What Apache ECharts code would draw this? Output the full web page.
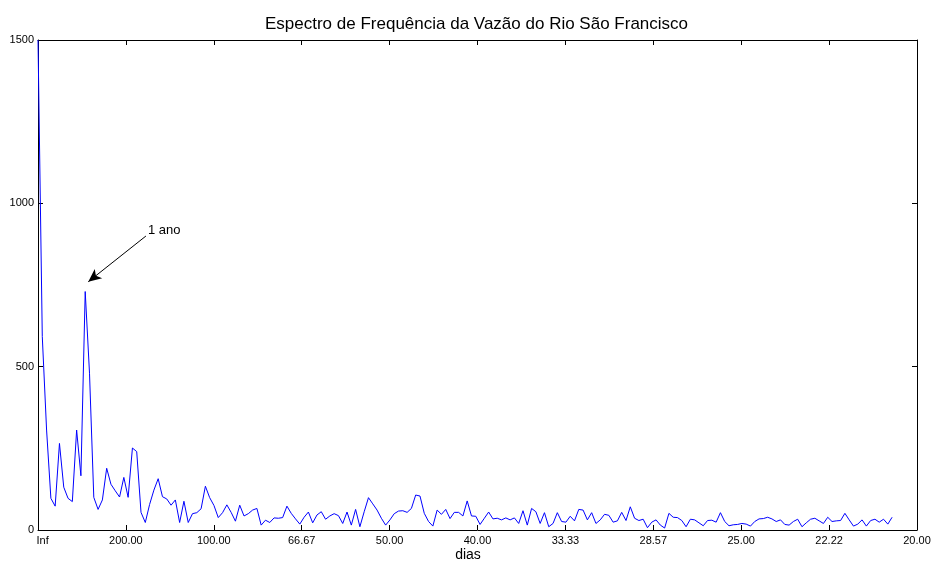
<!DOCTYPE html>
<html>
<head>
<meta charset="utf-8">
<title>Espectro de Frequência da Vazão do Rio São Francisco</title>
<script src="https://cdn.jsdelivr.net/npm/echarts@6/dist/echarts.min.js"></script>
<style>
  html, body { margin: 0; padding: 0; background: #fff; }
  #chart { width: 934px; height: 562px; }
</style>
</head>
<body>
<div id="chart"></div>
<script>
// FFT length used to turn bin index into frequency (cycles per day)
const fftLength = 4096;

// Spectral amplitude for bins 0..199
const amplitude = [
  1500, 592, 306, 97, 73, 265, 131, 97, 87, 306,
  166, 730, 480, 100, 63, 92, 189, 140, 120, 101,
  161, 100, 251, 240, 54, 23, 78, 122, 157, 102,
  95, 76, 92, 23, 88, 23, 50, 53, 65, 134,
  99, 75, 38, 53, 77, 54, 27, 76, 43, 50,
  61, 66, 15, 30, 23, 37, 36, 38, 73, 51,
  34, 18, 39, 55, 22, 46, 56, 33, 43, 50,
  44, 20, 55, 15, 63, 10, 56, 99, 80, 61,
  36, 15, 31, 50, 58, 59, 54, 66, 107, 104,
  51, 26, 12, 61, 48, 63, 35, 54, 54, 43,
  89, 43, 42, 17, 36, 55, 34, 36, 31, 37,
  31, 37, 20, 59, 15, 66, 56, 20, 53, 10,
  20, 53, 26, 24, 42, 28, 63, 61, 31, 53,
  20, 31, 48, 45, 24, 28, 54, 29, 71, 36,
  29, 33, 7, 24, 31, 15, 6, 51, 39, 38,
  29, 10, 33, 31, 22, 13, 29, 30, 24, 53,
  26, 13, 16, 17, 20, 18, 12, 26, 34, 35,
  39, 34, 26, 31, 17, 15, 26, 33, 10, 22,
  33, 36, 28, 20, 39, 26, 28, 29, 51, 31,
  12, 18, 31, 12, 29, 33, 24, 33, 18, 39
];

// Frequency axis ticks (every 0.005 cycles/day) labelled as periods in days
const xTickStep = 0.005;
const xTickLabels = ['   Inf', '200.00', '100.00', '66.67', '50.00', '40.00',
                     '33.33', '28.57', '25.00', '22.22', '20.00'];
const yTicks = [0, 500, 1000, 1500];

// Annotation arrow for the annual cycle: tail and head in data coordinates
const annotationText = '1 ano';
const annotationTail = [0.00614, 900];
const annotationHead = [0.00286, 760];

const titleText = 'Espectro de Frequência da Vazão do Rio São Francisco';
const xAxisTitle = 'dias';

const seriesData = amplitude.map((v, k) => [k / fftLength, v]);

const font = '"Liberation Sans", Arial, Helvetica, sans-serif';
const black = '#000';

function frameAxis(extra) {
  return Object.assign({
    type: 'value',
    axisLine: { show: true, onZero: false, lineStyle: { color: black, width: 1 } },
    axisTick: { show: true, inside: true, length: 5, lineStyle: { color: black, width: 1 } },
    splitLine: { show: false },
    axisLabel: { show: false }
  }, extra);
}

const chart = echarts.init(document.getElementById('chart'), null, { renderer: 'canvas' });

chart.setOption({
  animation: false,
  backgroundColor: '#fff',
  grid: { left: 38, right: 17, top: 40, bottom: 32, containLabel: false },
  xAxis: [
    frameAxis({
      position: 'bottom',
      min: 0, max: 0.05, interval: xTickStep,
      axisLabel: {
        show: true, color: black, fontFamily: font, fontSize: 11, margin: 5,
        formatter: v => xTickLabels[Math.round(v / xTickStep)] || ''
      }
    }),
    frameAxis({ position: 'top', min: 0, max: 0.05, interval: xTickStep })
  ],
  yAxis: [
    frameAxis({
      position: 'left',
      min: yTicks[0], max: yTicks[yTicks.length - 1], interval: yTicks[1] - yTicks[0],
      axisLabel: {
        show: true, color: black, fontFamily: font, fontSize: 11, margin: 4,
        formatter: v => String(v)
      }
    }),
    frameAxis({
      position: 'right',
      min: yTicks[0], max: yTicks[yTicks.length - 1], interval: yTicks[1] - yTicks[0]
    })
  ],
  series: [{
    type: 'line',
    data: seriesData,
    showSymbol: false,
    symbol: 'none',
    lineStyle: { color: '#0000ff', width: 1 },
    markLine: {
      silent: true,
      animation: false,
      lineStyle: { color: black, width: 1, type: 'solid' },
      symbol: ['none', 'arrow'],
      symbolSize: [9, 13],
      label: { show: false },
      data: [[
        { coord: annotationTail },
        { coord: annotationHead }
      ]]
    }
  }]
});

// Title, annotation text and axis title, placed once the scales are known
const tailPx = chart.convertToPixel({ gridIndex: 0 }, annotationTail);
chart.setOption({
  graphic: [
    {
      type: 'text',
      x: 476.5,
      y: 24,
      style: {
        text: titleText,
        fontFamily: font, fontSize: 17, fill: black,
        textAlign: 'center', textVerticalAlign: 'middle'
      }
    },
    {
      type: 'text',
      x: tailPx[0] + 2,
      y: tailPx[1] + 1,
      style: {
        text: annotationText,
        fontFamily: font, fontSize: 13, fill: black,
        textAlign: 'left', textVerticalAlign: 'bottom'
      }
    },
    {
      type: 'text',
      x: 468,
      y: 555,
      style: {
        text: xAxisTitle,
        fontFamily: font, fontSize: 14, fill: black,
        textAlign: 'center', textVerticalAlign: 'middle'
      }
    }
  ]
});
</script>
</body>
</html>
